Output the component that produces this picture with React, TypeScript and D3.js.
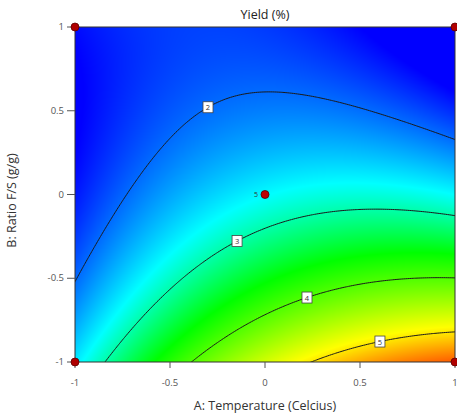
import React, { useMemo } from "react";
import * as d3 from "d3";

// Fitted response surface for Yield (%), coded factors A (temperature) and B (F/S ratio).
// Terms: 1, A, B, AB, A², B², A²B, AB²
const termCoefs = [2.6863, 0.5503, -1.4474, -0.897, -0.5388, 0.5335, 0.0235, 0.059];

const levels = [2, 3, 4, 5];
const labelA = [-0.3, -0.147, 0.221, 0.605];
const xTicks = [-1, -0.5, 0, 0.5, 1];
const yTicks = [-1, -0.5, 0, 0.5, 1];
const designPoints = [[-1, -1], [1, -1], [-1, 1], [1, 1]];
const centerRuns = 5;

const basis = (a: number, b: number) => [1, a, b, a * b, a * a, b * b, a * a * b, a * b * b];
const model = (a: number, b: number) => basis(a, b).reduce((s, t, i) => s + t * termCoefs[i], 0);

const W = 457, H = 418;
const left = 75, right = 455, top = 27, bottom = 362;

export default function App() {
  const x = d3.scaleLinear().domain([-1, 1]).range([left, right]);
  const y = d3.scaleLinear().domain([-1, 1]).range([bottom, top]);
  const color = d3.scaleLinear<string>().domain([1.5, 2.7, 3.6, 4.9, 6.0])
    .range(["#0000ff", "#00ffff", "#00ff00", "#ffff00", "#ff0000"]).clamp(true);

  const img = useMemo(() => {
    const w = right - left, h = bottom - top;
    const cv = document.createElement("canvas");
    cv.width = w; cv.height = h;
    const ctx = cv.getContext("2d")!;
    const data = ctx.createImageData(w, h);
    for (let j = 0; j < h; j++) for (let i = 0; i < w; i++) {
      const c = d3.rgb(color(model(x.invert(left + i + 0.5), y.invert(top + j + 0.5))));
      const k = (j * w + i) * 4;
      data.data[k] = c.r; data.data[k + 1] = c.g; data.data[k + 2] = c.b; data.data[k + 3] = 255;
    }
    ctx.putImageData(data, 0, 0);
    return cv.toDataURL();
  }, []);

  // Contour grid extends past the design space so ring edges fall outside the clip.
  const nx = 221, lo = -1.1, step = 2.2 / (nx - 1);
  const vals = new Array(nx * nx);
  for (let j = 0; j < nx; j++) for (let i = 0; i < nx; i++) vals[j * nx + i] = model(lo + i * step, -lo - j * step);
  const contours = d3.contours().size([nx, nx]).thresholds(levels)(vals);
  const gx = (g: number) => x(lo + (g - 0.5) * step);
  const gy = (g: number) => y(-lo - (g - 0.5) * step);
  const paths = contours.map((c) =>
    c.coordinates.map((poly) => poly.map((ring) => "M" + ring.map(([u, v]) => `${gx(u)},${gy(v)}`).join("L")).join("")).join("")
  );

  const solveB = (a: number, lev: number) => {
    let lo2 = -1, hi2 = 1;
    for (let k = 0; k < 40; k++) {
      const m = (lo2 + hi2) / 2;
      if (model(a, m) > lev) lo2 = m; else hi2 = m;
    }
    return (lo2 + hi2) / 2;
  };

  const font = "'Open Sans', sans-serif";

  return (
    <svg width={W} height={H} style={{ position: "absolute", left: 0, top: 0, background: "#fff" }}>
      <defs>
        <clipPath id="plotClip"><rect x={left} y={top} width={right - left} height={bottom - top} /></clipPath>
      </defs>
      <image href={img} x={left} y={top} width={right - left} height={bottom - top} preserveAspectRatio="none" />
      <g clipPath="url(#plotClip)">
        {paths.map((d, i) => <path key={i} d={d} fill="none" stroke="#1a1a1a" strokeWidth={1} />)}
      </g>
      {levels.map((lev, i) => {
        const a = labelA[i], b = solveB(a, lev);
        return (
          <g key={lev} transform={`translate(${x(a)},${y(b)})`}>
            <rect x={-5} y={-5.5} width={10} height={11} fill="#fff" stroke="#444" strokeWidth={0.8} />
            <text y={3} textAnchor="middle" fontSize={7.5} fontFamily={font} fill="#333">{lev}</text>
          </g>
        );
      })}
      <rect x={left} y={top} width={right - left} height={bottom - top} fill="none" stroke="#333" strokeWidth={1} />
      {xTicks.map((t) => (
        <g key={"x" + t}>
          <line x1={x(t)} x2={x(t)} y1={bottom} y2={bottom + 6} stroke="#555" />
          <text x={x(t)} y={bottom + 24} textAnchor="middle" fontSize={9.5} fontFamily={font} fill="#555">{t}</text>
        </g>
      ))}
      {yTicks.map((t) => (
        <g key={"y" + t}>
          <line x1={left - 8} x2={left} y1={y(t)} y2={y(t)} stroke="#555" />
          <text x={left - 11} y={y(t) + 3} textAnchor="end" fontSize={9.5} fontFamily={font} fill="#555">{t}</text>
        </g>
      ))}
      {designPoints.map(([a, b], i) => (
        <circle key={i} cx={x(a)} cy={y(b)} r={4} fill="#b00000" stroke="#600000" strokeWidth={0.8} />
      ))}
      <circle cx={x(0)} cy={y(0)} r={4} fill="#c00000" stroke="#500000" strokeWidth={0.8} />
      <text x={x(0) - 9} y={y(0) + 2.5} textAnchor="middle" fontSize={7} fontFamily={font} fill="#333">{centerRuns}</text>
      <text x={(left + right) / 2} y={19} textAnchor="middle" fontSize={12.5} fontFamily={font} fill="#222">Yield (%)</text>
      <text x={(left + right) / 2} y={410} textAnchor="middle" fontSize={12.5} fontFamily={font} fill="#333">A: Temperature (Celcius)</text>
      <text transform={`translate(16,${(top + bottom) / 2 + 6}) rotate(-90)`} textAnchor="middle" fontSize={12.5} fontFamily={font} fill="#333">B: Ratio F/S (g/g)</text>
    </svg>
  );
}
